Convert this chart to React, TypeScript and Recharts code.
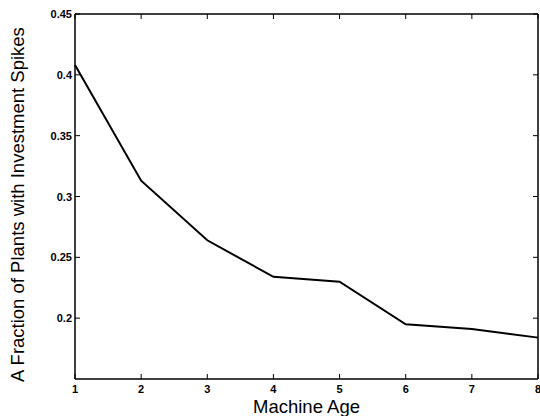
import { LineChart, Line, XAxis, YAxis } from 'recharts'

const ages = [1, 2, 3, 4, 5, 6, 7, 8]
const fractions = [0.408, 0.313, 0.264, 0.234, 0.23, 0.195, 0.191, 0.184]
const xTicks = [1, 2, 3, 4, 5, 6, 7, 8]
const yTicks = [0.2, 0.25, 0.3, 0.35, 0.4, 0.45]

const data = ages.map((age, i) => ({ age, fraction: fractions[i] }))

const font = 'Arial, "Liberation Sans", Helvetica, sans-serif'
const TICK = 5

function BottomTick({ x, y, payload }: any) {
  return (
    <g>
      <line x1={x} x2={x} y1={y} y2={y - TICK} stroke="#000" strokeWidth={1} />
      <text x={x} y={y + 14} textAnchor="middle" fontSize={11} fontWeight="bold" fontFamily={font} fill="#000">
        {payload.value}
      </text>
    </g>
  )
}

function TopTick({ x, y }: any) {
  return <line x1={x} x2={x} y1={y} y2={y + TICK} stroke="#000" strokeWidth={1} />
}

function LeftTick({ x, y, payload }: any) {
  return (
    <g>
      <line x1={x} x2={x + TICK} y1={y} y2={y} stroke="#000" strokeWidth={1} />
      <text x={x - 3} y={y + 4} textAnchor="end" fontSize={11} fontWeight="bold" fontFamily={font} fill="#000">
        {String(payload.value)}
      </text>
    </g>
  )
}

function RightTick({ x, y }: any) {
  return <line x1={x} x2={x - TICK} y1={y} y2={y} stroke="#000" strokeWidth={1} />
}

export default function App() {
  return (
    <div style={{ position: 'absolute', left: 0, top: 0, width: 540, height: 416, background: '#fff' }}>
      <LineChart width={540} height={416} data={data} margin={{ top: 13, right: 1, left: 0, bottom: 0 }}>
        <XAxis
          dataKey="age"
          type="number"
          domain={[1, 8]}
          ticks={xTicks}
          interval={0}
          height={37}
          tickSize={0}
          tickMargin={0}
          tickLine={false}
          axisLine={{ stroke: '#000', strokeWidth: 1.5 }}
          tick={<BottomTick />}
          label={{ value: 'Machine Age', position: 'insideBottom', offset: 0, fontSize: 18.5, fontFamily: font, fill: '#000', dy: -3 }}
        />
        <XAxis
          xAxisId="top"
          orientation="top"
          dataKey="age"
          type="number"
          domain={[1, 8]}
          ticks={xTicks}
          interval={0}
          height={1}
          tickSize={0}
          tickMargin={0}
          tickLine={false}
          axisLine={{ stroke: '#000', strokeWidth: 1.5 }}
          tick={<TopTick />}
        />
        <YAxis
          type="number"
          domain={[0.15, 0.45]}
          ticks={yTicks}
          interval={0}
          width={75}
          tickSize={0}
          tickMargin={0}
          tickLine={false}
          axisLine={{ stroke: '#000', strokeWidth: 1.5 }}
          tick={<LeftTick />}
          label={{
            value: 'A Fraction of Plants with Investment Spikes',
            angle: -90,
            position: 'insideLeft',
            fontSize: 18.5,
            fontFamily: font,
            fill: '#000',
            dx: 12,
            dy: 8,
            style: { textAnchor: 'middle' },
          }}
        />
        <YAxis
          yAxisId="right"
          orientation="right"
          type="number"
          domain={[0.15, 0.45]}
          ticks={yTicks}
          interval={0}
          width={1}
          tickSize={0}
          tickMargin={0}
          tickLine={false}
          axisLine={{ stroke: '#000', strokeWidth: 1.5 }}
          tick={<RightTick />}
        />
        <Line
          xAxisId="top"
          yAxisId="right"
          type="linear"
          dataKey="fraction"
          stroke="none"
          dot={false}
          legendType="none"
          isAnimationActive={false}
        />
        <Line
          type="linear"
          dataKey="fraction"
          stroke="#000"
          strokeWidth={2}
          dot={false}
          isAnimationActive={false}
        />
      </LineChart>
    </div>
  )
}
